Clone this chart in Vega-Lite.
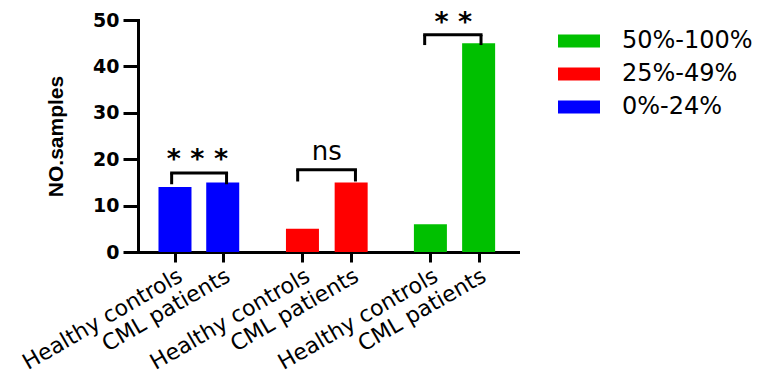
{
  "$schema": "https://vega.github.io/schema/vega-lite/v6.json",
  "autosize": "none",
  "width": 380,
  "height": 232,
  "padding": {"left": 138, "top": 20, "right": 259, "bottom": 126},
  "background": "white",
  "config": {"view": {"stroke": null}},
  "datasets": {
    "bars": [
      {"pos": 1, "label": "Healthy controls", "group": "0%-24%", "value": 14},
      {"pos": 2, "label": "CML patients", "group": "0%-24%", "value": 15},
      {"pos": 3.67, "label": "Healthy controls", "group": "25%-49%", "value": 5},
      {"pos": 4.69, "label": "CML patients", "group": "25%-49%", "value": 15},
      {"pos": 6.35, "label": "Healthy controls", "group": "50%-100%", "value": 6},
      {"pos": 7.36, "label": "CML patients", "group": "50%-100%", "value": 45}
    ],
    "brackets": [
      {"x1": 0.93, "x2": 2.08, "top": 17.0, "leg": 14.6, "tx": 1.47, "ty": 19.9, "sig": "* * *"},
      {"x1": 3.57, "x2": 4.78, "top": 17.7, "leg": 15.2, "tx": 4.18, "ty": 21.5, "sig": "ns"},
      {"x1": 6.23, "x2": 7.41, "top": 46.8, "leg": 44.6, "tx": 6.83, "ty": 49.3, "sig": "* *"}
    ]
  },
  "layer": [
    {
      "data": {"name": "bars"},
      "mark": {"type": "bar", "size": 33},
      "encoding": {
        "x": {
          "field": "pos", "type": "quantitative",
          "scale": {"domain": [0.33, 8.08], "nice": false, "zero": false},
          "axis": {
            "title": null, "grid": false,
            "values": [1, 2, 3.67, 4.69, 6.35, 7.36],
            "labelExpr": "(datum.value == 1 || datum.value == 3.67 || datum.value == 6.35) ? 'Healthy controls' : 'CML patients'",
            "labelAngle": -30, "labelFont": "DejaVu Sans", "labelFontSize": 22, "labelColor": "black",
            "labelPadding": 3, "labelOverlap": false, "labelFlush": false, "labelLimit": 0,
            "tickSize": 10, "tickWidth": 3, "tickColor": "black",
            "domainWidth": 3, "domainColor": "black", "domainCap": "square"
          }
        },
        "y": {
          "field": "value", "type": "quantitative",
          "scale": {"domain": [0, 50], "nice": false},
          "axis": {
            "title": "NO.samples", "titleFont": "Liberation Sans", "titleFontSize": 21, "titleFontWeight": 600,
            "titleColor": "black", "titlePadding": 26,
            "grid": false, "values": [0, 10, 20, 30, 40, 50],
            "labelFont": "DejaVu Sans", "labelFontWeight": "bold", "labelFontSize": 19, "labelColor": "black",
            "labelPadding": 4,
            "tickSize": 15, "tickWidth": 3, "tickColor": "black",
            "domainWidth": 3, "domainColor": "black", "domainCap": "square"
          }
        },
        "color": {
          "field": "group", "type": "nominal",
          "scale": {"domain": ["50%-100%", "25%-49%", "0%-24%"], "range": ["#00c000", "#ff0000", "#0000ff"]},
          "legend": {
            "title": null, "orient": "none", "legendX": 420, "legendY": 0,
            "padding": 0,
            "symbolType": "M-1,-0.31L1,-0.31L1,0.31L-1,0.31Z", "symbolSize": 1764,
            "symbolStrokeWidth": 0, "symbolOpacity": 1,
            "labelFont": "DejaVu Sans", "labelFontSize": 24, "labelColor": "black",
            "labelOffset": 22, "rowPadding": -5
          }
        }
      }
    },
    {
      "data": {"name": "brackets"},
      "mark": {"type": "rule", "strokeWidth": 3, "color": "black", "strokeCap": "square"},
      "encoding": {
        "x": {"field": "x1", "type": "quantitative"},
        "x2": {"field": "x2"},
        "y": {"field": "top", "type": "quantitative"}
      }
    },
    {
      "data": {"name": "brackets"},
      "mark": {"type": "rule", "strokeWidth": 3, "color": "black"},
      "encoding": {
        "x": {"field": "x1", "type": "quantitative"},
        "y": {"field": "top", "type": "quantitative"},
        "y2": {"field": "leg"}
      }
    },
    {
      "data": {"name": "brackets"},
      "mark": {"type": "rule", "strokeWidth": 3, "color": "black"},
      "encoding": {
        "x": {"field": "x2", "type": "quantitative"},
        "y": {"field": "top", "type": "quantitative"},
        "y2": {"field": "leg"}
      }
    },
    {
      "data": {"name": "brackets"},
      "transform": [{"filter": "datum.sig != 'ns'"}],
      "mark": {"type": "text", "font": "DejaVu Sans", "fontSize": 27, "fontWeight": "bold", "color": "black", "baseline": "middle", "align": "center"},
      "encoding": {
        "x": {"field": "tx", "type": "quantitative"},
        "y": {"field": "ty", "type": "quantitative"},
        "text": {"field": "sig"}
      }
    },
    {
      "data": {"name": "brackets"},
      "transform": [{"filter": "datum.sig == 'ns'"}],
      "mark": {"type": "text", "font": "DejaVu Sans", "fontSize": 26, "color": "black", "baseline": "middle", "align": "center"},
      "encoding": {
        "x": {"field": "tx", "type": "quantitative"},
        "y": {"field": "ty", "type": "quantitative"},
        "text": {"field": "sig"}
      }
    }
  ]
}
